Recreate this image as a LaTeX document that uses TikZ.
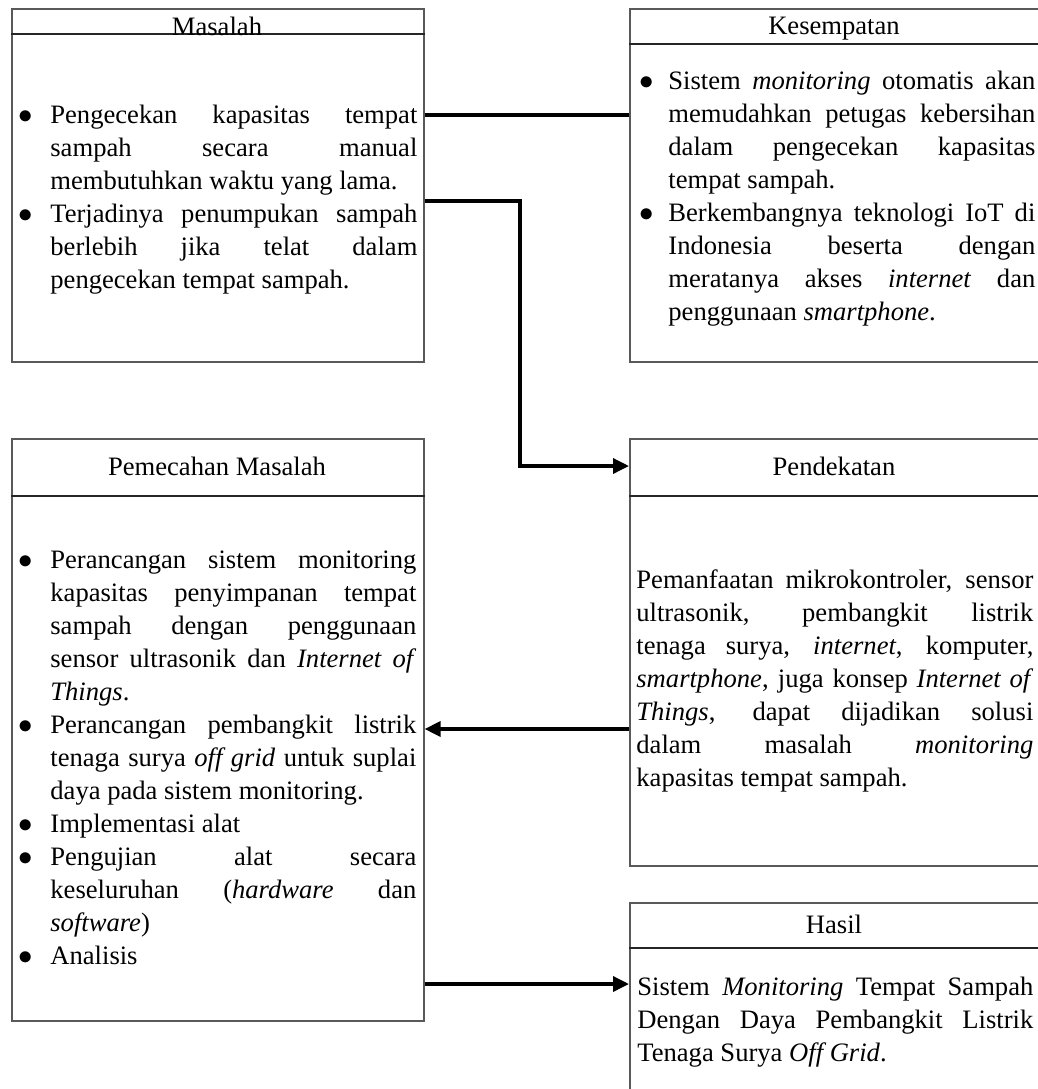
\documentclass[tikz,border=0pt]{standalone}
\usepackage{fontspec}
\setmainfont{Liberation Serif}
\usetikzlibrary{arrows.meta}
\newlength\bind
\newcommand\bul{$\bullet$}
\newcommand\Bj[1]{\hbox to\hsize{\hbox to\bind{\bul\hss}#1}}
\newcommand\Br[1]{\hbox to\hsize{\hbox to\bind{\bul\hss}#1\hfil}}
\newcommand\Ij[1]{\hbox to\hsize{\hskip\bind\relax #1}}
\newcommand\Ir[1]{\hbox to\hsize{\hskip\bind\relax #1\hfil}}
\newcommand\blk[3]{\vtop{\hsize=#1\relax\bind=#2\relax\baselineskip=16.5pt\lineskiplimit=-20pt\relax #3}}
\tikzset{
  box/.style={draw=black!65, line width=0.8pt, rectangle, anchor=north west, inner sep=0pt, minimum width=206pt},
  hdr/.style={draw=black!85, line width=0.7pt},
  conn/.style={line width=1.75pt},
  arr/.style={conn, -{Triangle[length=8pt,width=7.5pt]}},
  ttl/.style={anchor=base, inner sep=0pt},
  txt/.style={anchor=base west, inner sep=0pt},
}
\begin{document}
\begin{tikzpicture}[x=0.5pt, y=-0.5pt, font=\fontsize{13.3pt}{16.5pt}\selectfont]
\useasboundingbox (0,0) rectangle (1038,1089);
\clip (0,0) rectangle (1038,1089);
% boxes
\node[box, minimum height=176.5pt] (masalah) at (11,8) {};
\node[box, minimum height=176.5pt] (kesempatan) at (629,8) {};
\node[box, minimum height=291pt] (pemecahan) at (11,438) {};
\node[box, minimum height=213.5pt] (pendekatan) at (629,438) {};
\node[box, minimum height=100pt] (hasil) at (629,902) {};
% header lines
\draw[hdr] (masalah.west |- 0,34) -- (masalah.east |- 0,34);
\draw[hdr] (kesempatan.west |- 0,44) -- (kesempatan.east |- 0,44);
\draw[hdr] (pemecahan.west |- 0,496) -- (pemecahan.east |- 0,496);
\draw[hdr] (pendekatan.west |- 0,496) -- (pendekatan.east |- 0,496);
\draw[hdr] (hasil.west |- 0,948) -- (hasil.east |- 0,948);
% titles
\node[ttl] (tmasalah) at (217,35) {Masalah};
\node[ttl] (tkesempatan) at (834,34) {Kesempatan};
\node[ttl] (tpemecahan) at (217,475) {Pemecahan Masalah};
\node[ttl] (tpendekatan) at (834,475) {Pendekatan};
\node[ttl] (thasil) at (834,933) {Hasil};
% texts
\node[txt] (xmasalah) at (18,123) {\blk{199.5pt}{16pt}{%
\Bj{Pengecekan kapasitas tempat}
\Ij{sampah secara manual}
\Ir{membutuhkan waktu yang lama.}
\Bj{Terjadinya penumpukan sampah}
\Ij{berlebih jika telat dalam}
\Ir{pengecekan tempat sampah.}}};
\node[txt] (xkesempatan) at (639,89) {\blk{198pt}{14.5pt}{%
\Bj{Sistem \textit{monitoring} otomatis akan}
\Ij{memudahkan petugas kebersihan}
\Ij{dalam pengecekan kapasitas}
\Ir{tempat sampah.}
\Bj{Berkembangnya teknologi IoT di}
\Ij{Indonesia beserta dengan}
\Ij{meratanya akses \textit{internet} dan}
\Ir{penggunaan \textit{smartphone}.}}};
\node[txt] (xpemecahan) at (18,568) {\blk{199pt}{16pt}{%
\Bj{Perancangan sistem monitoring}
\Ij{kapasitas penyimpanan tempat}
\Ij{sampah dengan penggunaan}
\Ij{sensor ultrasonik dan \textit{Internet of}}
\Ir{\textit{Things}.}
\Bj{Perancangan pembangkit listrik}
\Ij{tenaga surya \textit{off grid} untuk suplai}
\Ir{daya pada sistem monitoring.}
\Br{Implementasi alat}
\Bj{Pengujian alat secara}
\Ij{keseluruhan (\textit{hardware} dan}
\Ir{\textit{software})}
\Br{Analisis}}};
\node[txt] (xpendekatan) at (636,588) {\blk{198.5pt}{0pt}{%
\Ij{Pemanfaatan mikrokontroler, sensor}
\Ij{ultrasonik, pembangkit listrik}
\Ij{tenaga surya, \textit{internet}, komputer,}
\Ij{\textit{smartphone}, juga konsep \textit{Internet of}}
\Ij{\textit{Things}, dapat dijadikan solusi}
\Ij{dalam masalah \textit{monitoring}}
\Ir{kapasitas tempat sampah.}}};
\node[txt] (xhasil) at (637,995) {\blk{198pt}{0pt}{%
\Ij{Sistem \textit{Monitoring} Tempat Sampah}
\Ij{Dengan Daya Pembangkit Listrik}
\Ir{Tenaga Surya \textit{Off Grid}.}}};
% connectors
\coordinate (bend) at (520,466);
\draw[conn] (masalah.east |- 0,115) -- (kesempatan.west |- 0,115);
\draw[arr] (masalah.east |- 0,201) -| (bend) -- (pendekatan.west |- bend);
\draw[arr] (pendekatan.west |- 0,729) -- (pemecahan.east |- 0,729);
\draw[arr] (pemecahan.east |- 0,984) -- (hasil.west |- 0,984);
\end{tikzpicture}
\end{document}
